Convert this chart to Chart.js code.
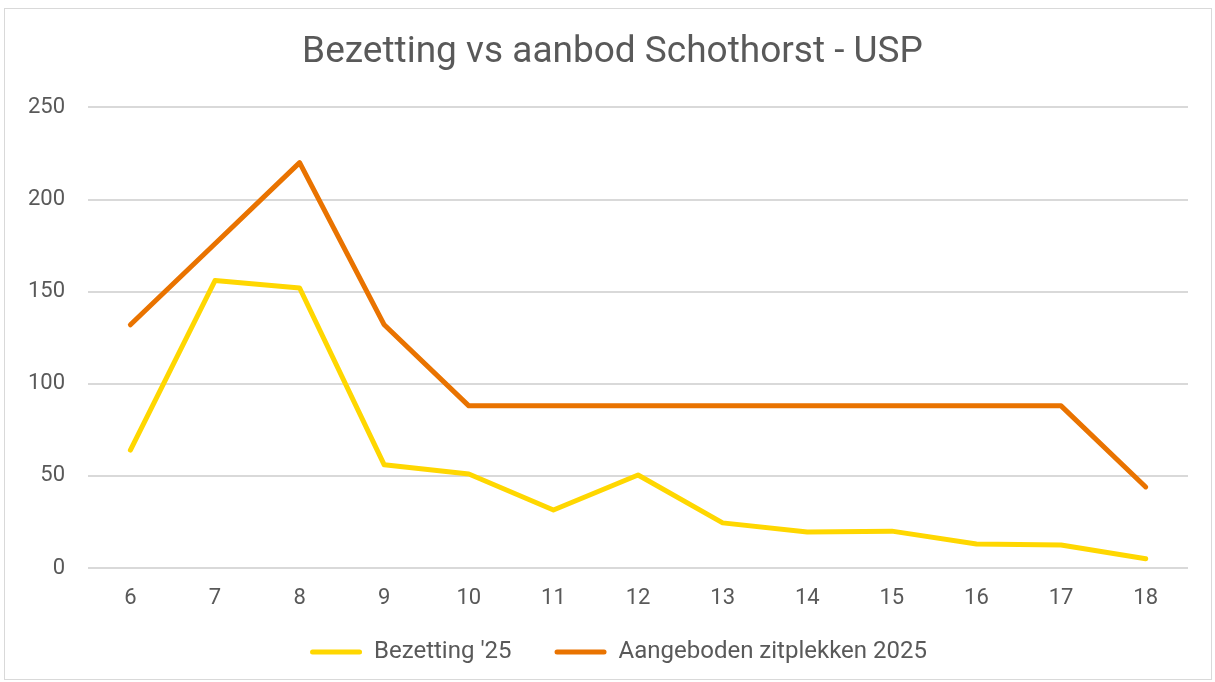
<!DOCTYPE html>
<html lang="nl">
  <head>
    <meta charset="UTF-8" />
    <title>Bezetting vs aanbod Schothorst - USP</title>
    <style>
      body { margin: 0; background: #fff; }
      #box {
        position: absolute; left: 4px; top: 8px; width: 1208px; height: 672px;
        border: 1px solid #d9d9d9; box-sizing: border-box; background: #fff;
      }
    </style>
  </head>
  <body>
    <div id="box">
      <canvas id="myChart"></canvas>
    </div>
    <script src="https://cdn.jsdelivr.net/npm/chart.js"></script>
    <script>
      const hours = ['6', '7', '8', '9', '10', '11', '12', '13', '14', '15', '16', '17', '18'];
      const bezetting = [64, 156, 152, 56, 51, 31.5, 50.5, 24.5, 19.5, 20, 13, 12.5, 5];
      const aangeboden = [132, 176, 220, 132, 88, 88, 88, 88, 88, 88, 88, 88, 44];
      const yTicks = [0, 50, 100, 150, 200, 250];

      const textColor = '#595959';
      const gridColor = '#d9d9d9';
      Chart.defaults.font.family = 'Roboto, sans-serif';
      Chart.defaults.color = textColor;

      // centre title and legend on the whole box instead of the padded area
      const shiftBlocks = {
        id: 'shiftBlocks',
        afterLayout(chart) {
          const move = (box, dx) => { if (box) { box.left += dx; box.right += dx; } };
          move(chart.titleBlock, 16);
          move(chart.legend, 22);
        },
      };

      const data = {
        labels: hours,
        datasets: [
          {
            label: "Bezetting '25",
            data: bezetting,
            borderColor: '#ffd700',
            backgroundColor: '#ffd700',
            borderWidth: 5,
            pointRadius: 0,
            borderJoinStyle: 'round',
            borderCapStyle: 'round',
          },
          {
            label: 'Aangeboden zitplekken 2025',
            data: aangeboden,
            borderColor: '#e97300',
            backgroundColor: '#e97300',
            borderWidth: 5,
            pointRadius: 0,
            borderJoinStyle: 'round',
            borderCapStyle: 'round',
          },
        ],
      };

      const config = {
        type: 'line',
        data: data,
        plugins: [shiftBlocks],
        options: {
          responsive: true,
          maintainAspectRatio: false,
          animation: false,
          layout: { padding: { left: 0, right: 23, top: 12, bottom: 5 } },
          plugins: {
            title: {
              display: true,
              text: 'Bezetting vs aanbod Schothorst - USP',
              font: { size: 37, weight: 'normal' },
              color: textColor,
              padding: { top: 10, bottom: 32 },
            },
            legend: {
              position: 'bottom',
              labels: {
                boxWidth: 52,
                boxHeight: 5,
                padding: 43,
                font: { size: 24 },
                color: textColor,
                generateLabels: (chart) =>
                  chart.data.datasets.map((ds, i) => ({
                    text: ds.label,
                    fillStyle: ds.borderColor,
                    strokeStyle: ds.borderColor,
                    lineWidth: 0,
                    borderRadius: 2.5,
                    datasetIndex: i,
                    fontColor: textColor,
                  })),
              },
            },
            tooltip: { enabled: false },
          },
          scales: {
            x: {
              offset: true,
              grid: { display: false, drawTicks: false },
              border: { display: false },
              // mirrored ticks with negative padding sit below the axis without taking height
              ticks: { font: { size: 22 }, color: textColor, padding: -44, mirror: true },
              afterFit: (axis) => { axis.height = 29; },
            },
            y: {
              min: 0,
              max: 250,
              afterBuildTicks: (axis) => { axis.ticks = yTicks.map((v) => ({ value: v })); },
              grid: { color: gridColor, lineWidth: 2, drawTicks: false },
              border: { display: false },
              ticks: { font: { size: 22 }, color: textColor, padding: 23 },
            },
          },
        },
      };

      new Chart(document.getElementById('myChart'), config);
    </script>
  </body>
</html>
